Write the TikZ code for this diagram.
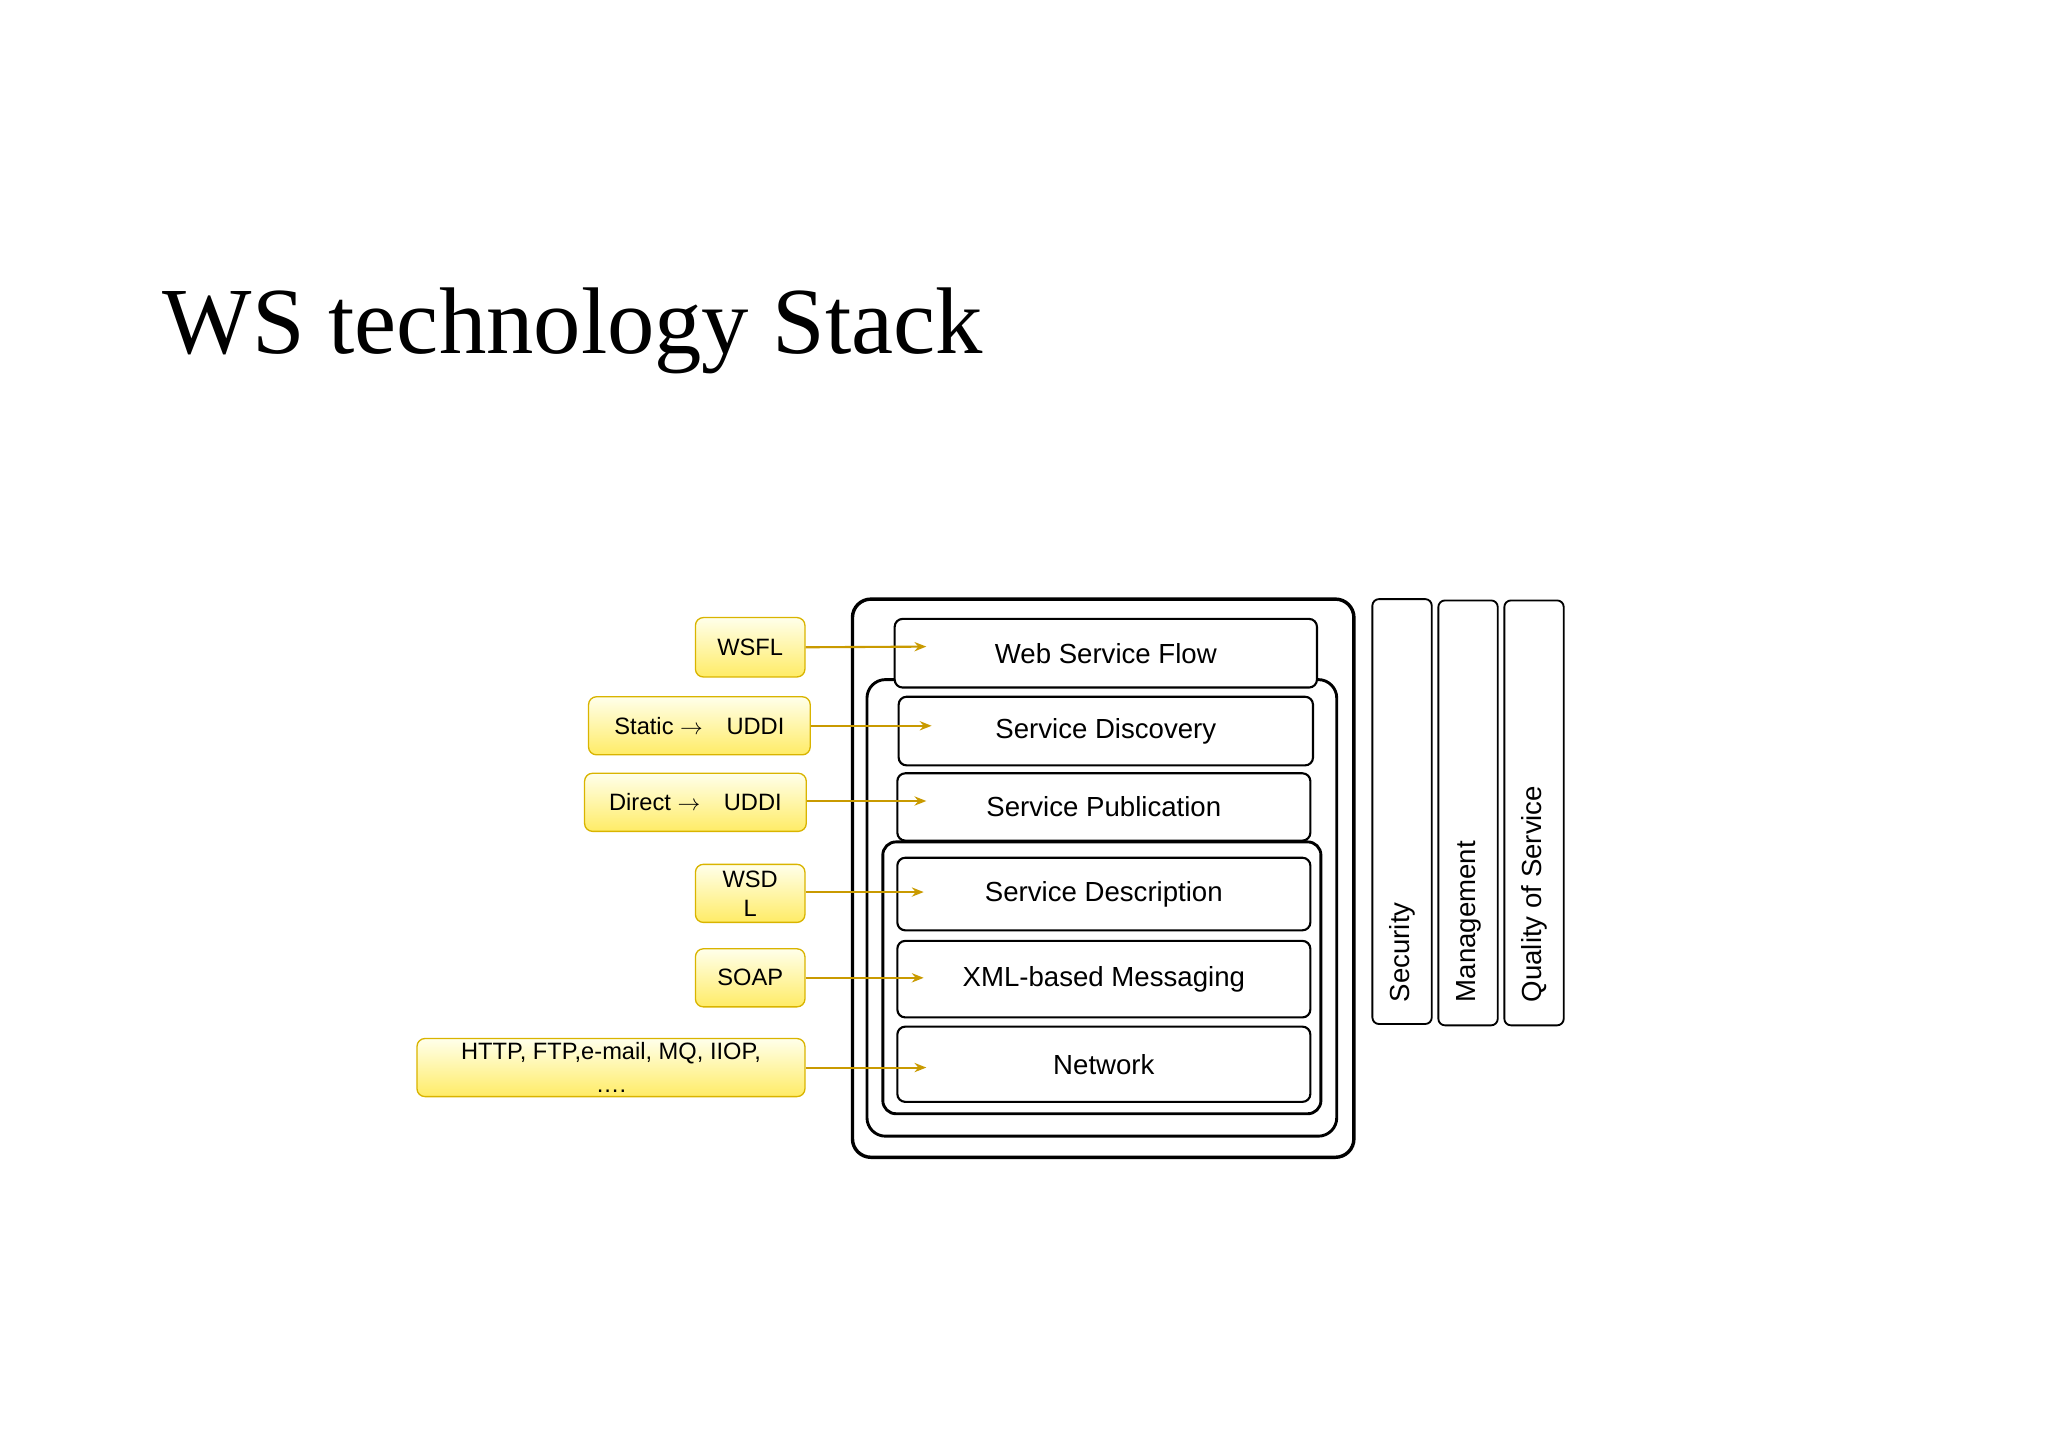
\documentclass[tikz,border=0pt]{standalone}
\usepackage{fontspec}
\setmainfont{Liberation Serif}
\newfontfamily\sansf{Liberation Sans}
\usetikzlibrary{arrows.meta}
\definecolor{gold}{HTML}{C99A00}
\definecolor{ylb}{HTML}{D9B400}
\begin{document}
\begin{tikzpicture}[x=1bp,y=-1bp,
  layer/.style={draw,line width=1.6bp,rounded corners=6bp,font=\sansf\fontsize{21}{24}\selectfont},
  frame/.style={draw,line width=2.6bp,rounded corners=14bp},
  side/.style={draw,line width=1.4bp,rounded corners=5bp},
  tag/.style={draw=ylb,line width=1bp,rounded corners=6bp,top color=yellow!8,bottom color=yellow!75!orange!60,font=\sansf\fontsize{18}{24}\selectfont,align=center},
  arr/.style={draw=gold,line width=1.6bp,-{Stealth[length=9bp,width=7bp]}}]
\useasboundingbox (0,0) rectangle (1552,1097);
\node[anchor=base west,font=\fontsize{72}{80}\selectfont] (title) at (120,268) {WS technology Stack};
% frames
\draw[frame] (646,454) rectangle (1026,877);
\draw[frame,line width=2.2bp] (657,515) rectangle (1013,861);
\draw[frame,line width=2.2bp,rounded corners=10bp] (669,638) rectangle (1001,844);
% layers
\node[layer,fill=white,minimum width=320bp,minimum height=52bp] (wsf) at (838,495) {Web Service Flow};
\node[layer,minimum width=314bp,minimum height=52bp] (sd) at (838,554) {Service Discovery};
\node[layer,minimum width=313bp,minimum height=51bp] (sp) at (836.5,611.5) {Service Publication};
\node[layer,minimum width=313bp,minimum height=55bp] (sdesc) at (836.5,677.5) {Service Description};
\node[layer,minimum width=313bp,minimum height=58bp] (xml) at (836.5,742) {XML-based Messaging};
\node[layer,minimum width=313bp,minimum height=57bp] (net) at (836.5,806.5) {Network};
% side bars
\draw[side] (1040,454) rectangle (1085,776);
\draw[side] (1090,455) rectangle (1135,777);
\draw[side] (1140,455) rectangle (1185,777);
\node[rotate=90,anchor=west,font=\sansf\fontsize{21}{24}\selectfont] (sec) at (1063,763) {Security};
\node[rotate=90,anchor=west,font=\sansf\fontsize{21}{24}\selectfont] (man) at (1113,763) {Management};
\node[rotate=90,anchor=west,font=\sansf\fontsize{21}{24}\selectfont] (qos) at (1163,763) {Quality of Service};
% tags
\node[tag,minimum width=83bp,minimum height=45bp] (t1) at (568.5,490.5) {WSFL};
\node[tag,minimum width=168bp,minimum height=44bp] (t2) at (530,550) {Static $\rightarrow$\quad UDDI};
\node[tag,minimum width=168bp,minimum height=44bp] (t3) at (527,608) {Direct $\rightarrow$\quad UDDI};
\node[tag,minimum width=83bp,minimum height=44bp,inner sep=0pt,font=\sansf\fontsize{18}{22}\selectfont] (t4) at (568.5,677) {WSD\\L};
\node[tag,minimum width=83bp,minimum height=44bp] (t5) at (568.5,741) {SOAP};
\node[tag,minimum width=294bp,minimum height=44bp,inner sep=0pt,font=\sansf\fontsize{18}{25}\selectfont] (t6) at (463,809) {HTTP, FTP,e-mail, MQ, IIOP,\\….};
% arrow ends
\coordinate (e1) at (702,490);
\coordinate (e2) at (706,550);
\coordinate (e3) at (702,607);
\coordinate (e4) at (700,676);
\coordinate (e5) at (700,741);
\coordinate (e6) at (702,809);
\draw[arr] (t1.east) -- (e1);
\draw[arr] (t2.east) -- (e2);
\draw[arr] (t3.east |- e3) -- (e3);
\draw[arr] (t4.east |- e4) -- (e4);
\draw[arr] (t5.east) -- (e5);
\draw[arr] (t6.east) -- (e6);
\end{tikzpicture}
\end{document}
